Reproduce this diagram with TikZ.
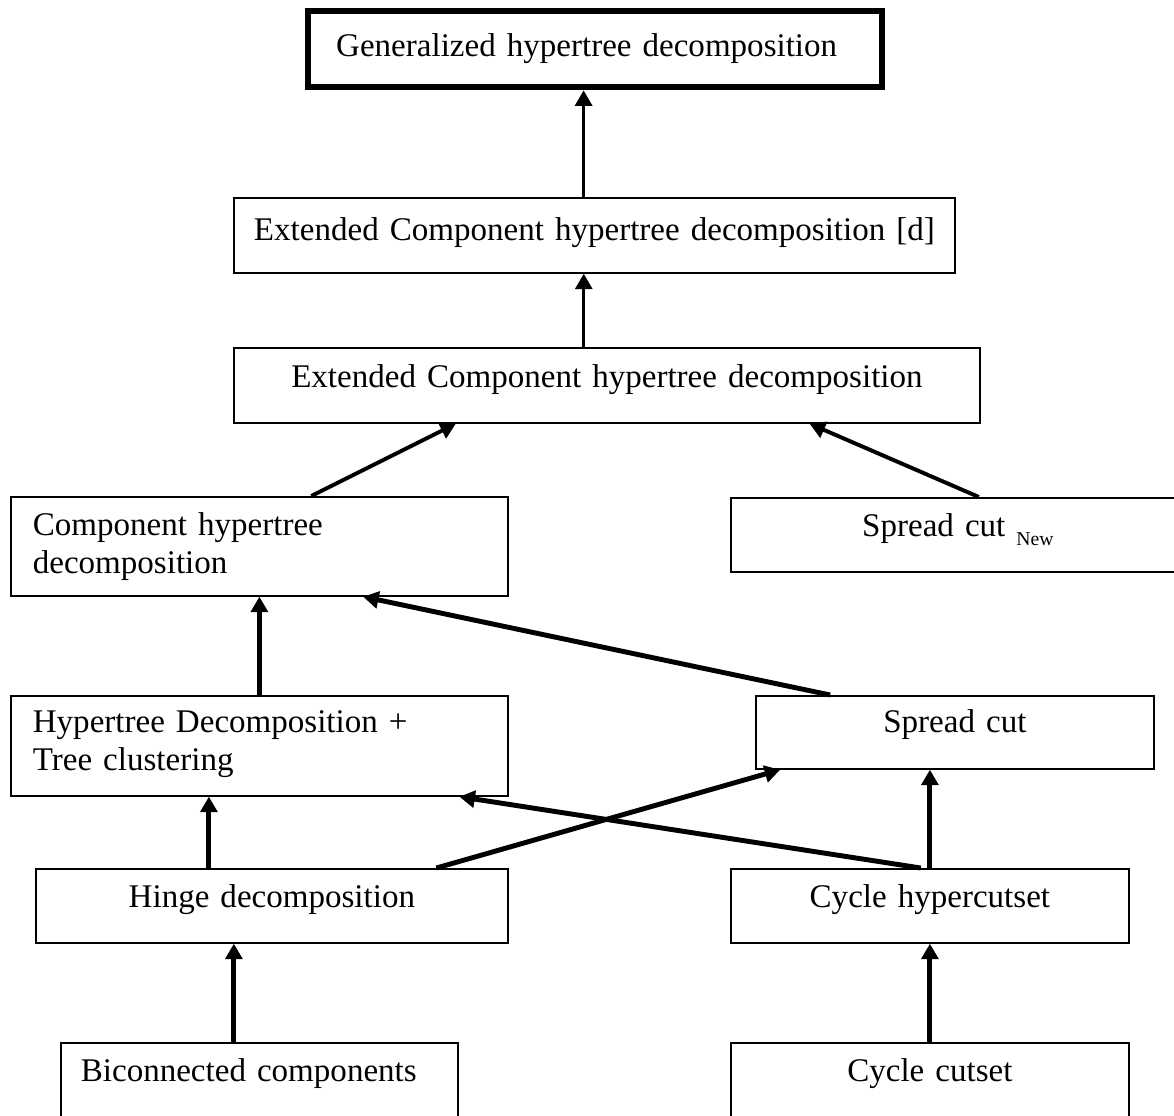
\documentclass[tikz,border=0pt]{standalone}
\usepackage{fontspec}
\setmainfont{Liberation Serif}
\usetikzlibrary{arrows.meta,calc}

\tikzset{
  box/.style={draw, line width=1.2pt, anchor=north west, inner sep=0pt,
    text height=0.975cm, align=center, font=\fontsize{23.5}{27}\selectfont},
  arr/.style={line width=3.5pt, -{Triangle[length=11pt,width=12pt]}},
  thinarr/.style={arr, line width=2.4pt},
}

\begin{document}
\begin{tikzpicture}[x=0.025cm, y=-0.025cm]
\useasboundingbox (0,0) rectangle (1174,1115);
\fill[white] (0,0) rectangle (1174,1115);

% boxes, top to bottom
\node[box, line width=4.5pt, inner xsep=0.7cm, text width=12.95cm, align=left,
  text height=1.125cm, text depth=0.775cm] (ghd) at (305,8) {Generalized hypertree decomposition};
\node[box, text width=18.025cm, text height=1.075cm, text depth=0.8cm] (ecdd) at (233,197)
  {Extended Component hypertree decomposition [d]};
\node[box, text width=18.65cm, text height=1cm, text depth=0.875cm] (ecd) at (233,347)
  {Extended Component hypertree decomposition};

\node[box, inner xsep=0.55cm, text width=11.325cm, align=left, text depth=1.5cm] (chd) at (10,496)
  {Component hypertree\\decomposition};
\node[box, text width=11.35cm, text depth=0.875cm] (scn) at (730,497)
  {Spread cut \raisebox{-6pt}{\fontsize{14}{14}\selectfont New}};

\node[box, inner xsep=0.55cm, text width=11.325cm, align=left, text height=0.925cm, text depth=1.575cm] (htd) at (10,695)
  {Hypertree Decomposition +\\Tree clustering};
\node[box, text width=9.95cm, text height=0.925cm, text depth=0.9cm] (sc) at (755,695) {Spread cut};

\node[box, text width=11.8cm, text depth=0.875cm] (hin) at (35,868) {Hinge decomposition};
\node[box, text width=9.95cm, text depth=0.875cm] (chc) at (730,868) {Cycle hypercutset};

\node[box, inner xsep=0.5cm, text width=8.925cm, align=left, text depth=2cm] (bic) at (60,1042)
  {Biconnected components};
\node[box, text width=9.95cm, text depth=2cm] (cc) at (730,1042) {Cycle cutset};

% connectors
\coordinate (s1) at ($(ecdd.north west)!.485!(ecdd.north east)$);
\draw[thinarr] (s1) -- (s1 |- ghd.south);
\coordinate (s2) at ($(ecd.north west)!.469!(ecd.north east)$);
\draw[thinarr] (s2) -- (s2 |- ecdd.south);
\draw[arr, line width=2.8pt] ($(chd.north west)!.604!(chd.north east)$) -- ($(ecd.south west)!.298!(ecd.south east)$);
\draw[arr, line width=2.8pt] ($(scn.north west)!.546!(scn.north east)$) -- ($(ecd.south west)!.771!(ecd.south east)$);
\draw[arr] (htd.north) -- (chd.south);
\draw[arr] ($(sc.north west)!.188!(sc.north east)$) -- ($(chd.south west)!.708!(chd.south east)$);
\coordinate (s3) at ($(hin.north west)!.367!(hin.north east)$);
\draw[arr] (s3) -- (s3 |- htd.south);
\draw[arr] ($(hin.north west)!.847!(hin.north east)$) -- ($(sc.south west)!.063!(sc.south east)$);
\draw[arr] (chc.north) -- (chc.north |- sc.south);
\draw[arr] ($(chc.north west)!.477!(chc.north east)$) -- ($(htd.south west)!.901!(htd.south east)$);
\coordinate (s4) at ($(bic.north west)!.436!(bic.north east)$);
\draw[arr] (s4) -- (s4 |- hin.south);
\draw[arr] (cc.north) -- (chc.south);
\end{tikzpicture}
\end{document}
